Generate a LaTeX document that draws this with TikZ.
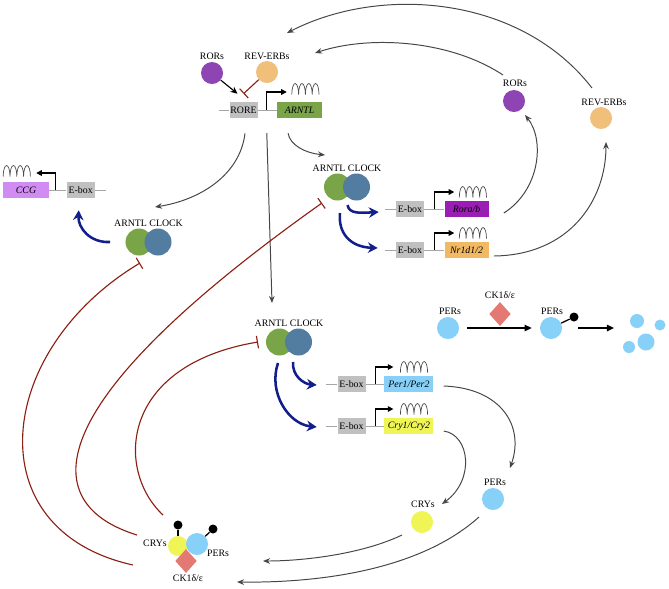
\documentclass[tikz,border=0pt]{standalone}
\usepackage{fontspec}
\setmainfont{Liberation Serif}
\usepackage{tikz}
\usetikzlibrary{arrows.meta,positioning,shapes.geometric}

\definecolor{rorpurple}{RGB}{142,68,178}
\definecolor{revorange}{RGB}{240,192,122}
\definecolor{boxgray}{RGB}{192,192,192}
\definecolor{arntlgreen}{RGB}{122,164,72}
\definecolor{clockblue}{RGB}{82,124,160}
\definecolor{roraviolet}{RGB}{155,30,180}
\definecolor{nrorange}{RGB}{242,185,100}
\definecolor{ccgviolet}{RGB}{208,140,242}
\definecolor{perblue}{RGB}{135,208,248}
\definecolor{cryyellow}{RGB}{238,245,85}
\definecolor{ckred}{RGB}{228,120,115}
\definecolor{inhred}{RGB}{140,30,18}
\definecolor{navy}{RGB}{18,30,140}
\definecolor{arrgray}{RGB}{70,70,70}

\tikzset{
  lab/.style={inner sep=0pt},
  prot/.style={circle, minimum size=0.55cm, inner sep=0pt},
  dimer/.style={circle, minimum size=0.675cm, inner sep=0pt},
  ebox/.style={fill=boxgray, minimum width=0.7cm, minimum height=0.4cm, inner sep=0pt},
  gene/.style={minimum width=1.125cm, minimum height=0.4cm, inner sep=0pt, font=\fontsize{7}{8}\selectfont\itshape},
  dna/.style={draw=gray!70, line width=0.7pt},
  prom/.style={-{Triangle[length=4pt,width=4pt]}, line width=0.9pt},
  mrna/.style={draw=black!70, line width=0.5pt},
  act/.style={line width=0.8pt, -{Stealth[length=5pt,width=4.5pt]}},
  garr/.style={arrgray, line width=0.7pt, -{Stealth[length=5pt,width=4pt]}},
  barr/.style={navy, line width=1.8pt, -{Stealth[length=7pt,width=7.5pt]}},
  parr/.style={line width=1pt, -{Triangle[length=5pt,width=4.5pt]}},
  inh/.style={inhred, line width=0.8pt, -{Bar[width=9pt]}},
  kin/.style={diamond, fill=ckred, minimum width=0.54cm, minimum height=0.6cm, inner sep=0pt},
  phos/.style={circle, fill=black, minimum size=0.225cm, inner sep=0pt},
  stick/.style={line width=0.9pt},
  frag/.style={circle, fill=perblue, inner sep=0pt},
}
\newcommand{\mrna}[1]{\draw[mrna] #1 ++(0,5.5) \foreach \k in {1,...,4}{ arc[start angle=180, end angle=0, x radius=0.085cm, y radius=0.275cm]};}

\begin{document}
\begin{tikzpicture}[x=0.025cm, y=-0.025cm, font=\fontsize{7}{8}\selectfont]
  \useasboundingbox (0,0) rectangle (669,588);

  % RORE - ARNTL
  \node[lab] (rorsAl) at (212,56) {RORs};
  \node[prot, fill=rorpurple] (rorsA) at (212,73) {};
  \node[lab] (revAl) at (267,56) {REV-ERBs};
  \node[prot, fill=revorange] (revA) at (267,72) {};
  \node[ebox] (rore) at (243.5,110) {RORE};
  \node[gene, fill=arntlgreen, right=0.475cm of rore] (arntl) {ARNTL};
  \coordinate[left=0.25cm of rore] (dnaA);
  \coordinate[right=0.225cm of rore] (prA);
  \draw[dna] (dnaA) -- (rore) (rore) -- (arntl);
  \draw[prom] (prA) -- ++(0,-18) -- ++(20,0);
  \mrna{([shift={(25,-21)}]prA)}
  \draw[act] (rorsA) -- ([shift={(-6,-8)}]rore.north);
  \draw[inh] (revA) -- ([shift={(0,-8)}]rore.north);

  % ARNTL CLOCK (top)
  \node[dimer, fill=arntlgreen] (arntlT) at (337.5,187) {};
  \node[dimer, fill=clockblue] (clockT) at (356.5,187) {};
  \node[lab] (cplxT) at (347,168) {ARNTL CLOCK};

  \node[ebox] (eboxR) at (410,209) {E-box};
  \node[gene, fill=roraviolet, minimum width=1.1cm, right=0.5cm of eboxR] (rora) {Rora/b};
  \coordinate[left=0.275cm of eboxR] (dnaR);
  \coordinate[right=0.25cm of eboxR] (prR);
  \draw[dna] (dnaR) -- (eboxR) (eboxR) -- (rora);
  \draw[prom] (prR) -- ++(0,-17) -- ++(20,0);
  \mrna{([shift={(25,-17)}]prR)}

  \node[ebox] (eboxN) at (410,250) {E-box};
  \node[gene, fill=nrorange, minimum width=1.1cm, right=0.5cm of eboxN] (nr) {Nr1d1/2};
  \coordinate[left=0.275cm of eboxN] (dnaN);
  \coordinate[right=0.25cm of eboxN] (prN);
  \draw[dna] (dnaN) -- (eboxN) (eboxN) -- (nr);
  \draw[prom] (prN) -- ++(0,-17) -- ++(20,0);
  \mrna{([shift={(25,-17)}]prN)}

  \draw[barr] ([shift={(-9,18)}]clockT.center) .. controls (349,214) and (360,213) .. ([shift={(-17,3)}]eboxR.west);
  \draw[barr] ([shift={(2.5,26)}]arntlT.center) .. controls (338,233) and (350,247) .. ([shift={(-18,-2)}]eboxN.west);

  % RORs and REV-ERBs (right)
  \node[lab] (rorsBl) at (515,83) {RORs};
  \node[prot, fill=rorpurple] (rorsB) at (514,101) {};
  \node[lab] (revBl) at (604,102) {REV-ERBs};
  \node[prot, fill=revorange] (revB) at (601,118) {};
  \draw[garr] ([shift={(15,4)}]rora.east) .. controls (540,190) and (545,140) .. ([shift={(11,14)}]rorsB.center);
  \draw[garr] ([shift={(5,6)}]nr.east) .. controls (570,255) and (606,200) .. ([shift={(5,24)}]revB.center);
  \draw[garr] ([shift={(-12,-8)}]rorsBl.center) .. controls (450,40) and (370,35) .. ([shift={(48,-3)}]revAl.center);
  \draw[garr] ([shift={(-12,-14)}]revBl.center) .. controls (520,-5) and (380,-15) .. ([shift={(20,-23)}]revAl.center);

  % CCG (left)
  \node[gene, fill=ccgviolet] (ccg) at (26,190) {CCG};
  \node[ebox, right=0.44cm of ccg] (eboxC) {E-box};
  \coordinate[right=0.275cm of eboxC] (dnaC);
  \coordinate[right=0.16cm of ccg] (prC);
  \draw[dna] (ccg) -- (eboxC) (eboxC) -- (dnaC);
  \draw[prom] (prC) -- ++(0,-17) -- ++(-19,0);
  \mrna{([shift={(-52,-19)}]prC)}

  \node[dimer, fill=arntlgreen] (arntlL) at (139,242) {};
  \node[dimer, fill=clockblue] (clockL) at (158,242) {};
  \node[lab] (cplxL) at (148.5,223) {ARNTL CLOCK};
  \draw[barr] ([shift={(-29,0)}]arntlL.center) .. controls (90,243) and (78,228) .. ([shift={(-2,12)}]eboxC.south);

  % ARNTL CLOCK (middle)
  \node[dimer, fill=arntlgreen] (arntlM) at (279.5,342) {};
  \node[dimer, fill=clockblue] (clockM) at (298.5,342) {};
  \node[lab] (cplxM) at (289,323) {ARNTL CLOCK};

  % arrows out of ARNTL
  \draw[garr] ([shift={(1.5,15)}]rore.south) .. controls (240,175) and (200,200) .. ([shift={(6.5,-16)}]cplxL.center);
  \draw[garr] ([shift={(0,23)}]prA) -- ([shift={(-17,-20)}]cplxM.center);
  \draw[garr] ([shift={(-11.5,15)}]arntl.south) .. controls (290,145) and (305,153) .. ([shift={(-22,-13)}]cplxT.center);

  \node[ebox] (eboxP) at (351.5,384) {E-box};
  \node[gene, fill=perblue, minimum width=1.225cm, right=0.46cm of eboxP] (per) {Per1/Per2};
  \coordinate[left=0.275cm of eboxP] (dnaP);
  \coordinate[right=0.24cm of eboxP] (prP);
  \draw[dna] (dnaP) -- (eboxP) (eboxP) -- (per);
  \draw[prom] (prP) -- ++(0,-17) -- ++(18,0);
  \mrna{([shift={(25,-17)}]prP)}

  \node[ebox] (eboxY) at (351.5,426) {E-box};
  \node[gene, fill=cryyellow, minimum width=1.225cm, right=0.46cm of eboxY] (cry) {Cry1/Cry2};
  \coordinate[left=0.275cm of eboxY] (dnaY);
  \coordinate[right=0.24cm of eboxY] (prY);
  \draw[dna] (dnaY) -- (eboxY) (eboxY) -- (cry);
  \draw[prom] (prY) -- ++(0,-17) -- ++(18,0);
  \mrna{([shift={(25,-17)}]prY)}

  \draw[barr] ([shift={(-5.5,20)}]clockM.center) .. controls (292,376) and (304,384) .. ([shift={(-20.5,1)}]eboxP.west);
  \draw[barr] ([shift={(-1.5,21)}]arntlM.center) .. controls (268,392) and (288,424) .. ([shift={(-20.5,1)}]eboxY.west);

  % PERs degradation
  \node[lab] (pers1l) at (450,311) {PERs};
  \node[prot, fill=perblue] (pers1) at (448,328) {};
  \node[lab] (kin1l) at (500,295) {CK1δ/ε};
  \node[kin] (kin1) at (500,314) {};
  \node[lab] (pers2l) at (552,311) {PERs};
  \node[prot, fill=perblue] (pers2) at (551,328) {};
  \node[phos] (pho2) at (574,317) {};
  \draw[stick] (pers2) -- (pho2);
  \draw[parr, shorten <=0.2cm, shorten >=0.2cm] (pers1) -- (pers2);
  \coordinate (deg) at (614,328);
  \draw[parr, shorten <=0.4cm] (pers2) -- (deg);
  \node[frag, minimum size=0.35cm] (frag1) at (637,321) {};
  \node[frag, minimum size=0.275cm] (frag2) at (660,325) {};
  \node[frag, minimum size=0.425cm] (frag3) at (646,342) {};
  \node[frag, minimum size=0.3cm] (frag4) at (629,347) {};

  % PERs and CRYs
  \node[lab] (crysCl) at (423,504) {CRYs};
  \node[prot, fill=cryyellow] (crysC) at (422,522) {};
  \node[lab] (persCl) at (495,482) {PERs};
  \node[prot, fill=perblue] (persC) at (493,499) {};
  \draw[garr] ([shift={(10,2)}]per.east) .. controls (500,388) and (525,425) .. ([shift={(17,-31)}]persC.center);
  \draw[garr] ([shift={(10,5)}]cry.east) .. controls (470,435) and (475,480) .. ([shift={(20,-18)}]crysC.center);

  % CRYs PERs complex
  \node[prot, fill=cryyellow, minimum size=0.5cm] (cryZ) at (178,546) {};
  \node[prot, fill=perblue] (perZ) at (197,544) {};
  \node[kin] (ckZ) at (186,561) {};
  \node[phos] (cryP) at (178,525) {};
  \node[phos] (perP) at (213,529) {};
  \draw[stick] (cryZ) -- (cryP);
  \draw[stick] (perZ) -- (perP);
  \node[lab] (cryZl) at (155,543) {CRYs};
  \node[lab] (perZl) at (218,553) {PERs};
  \node[lab] (ckZl) at (188,578) {CK1δ/ε};
  \draw[garr] ([shift={(-20,13)}]crysC.center) .. controls (360,555) and (300,561) .. ([shift={(66,17)}]perZ.center);
  \draw[garr] ([shift={(-14,18)}]persC.center) .. controls (420,570) and (320,583) .. ([shift={(49,4)}]ckZl.center);

  % repression
  \draw[inh] ([shift={(-45,19)}]cryZ.center) .. controls (-25,530) and (-5,350) .. ([shift={(1,21)}]arntlL.center);
  \draw[inh] ([shift={(-41,-11)}]cryZ.center) .. controls (40,505) and (30,410) .. ([shift={(-15.5,16)}]arntlT.center);
  \draw[inh] ([shift={(-15,-31)}]cryZ.center) .. controls (115,470) and (120,365) .. ([shift={(-21.5,0)}]arntlM.center);
\end{tikzpicture}
\end{document}
